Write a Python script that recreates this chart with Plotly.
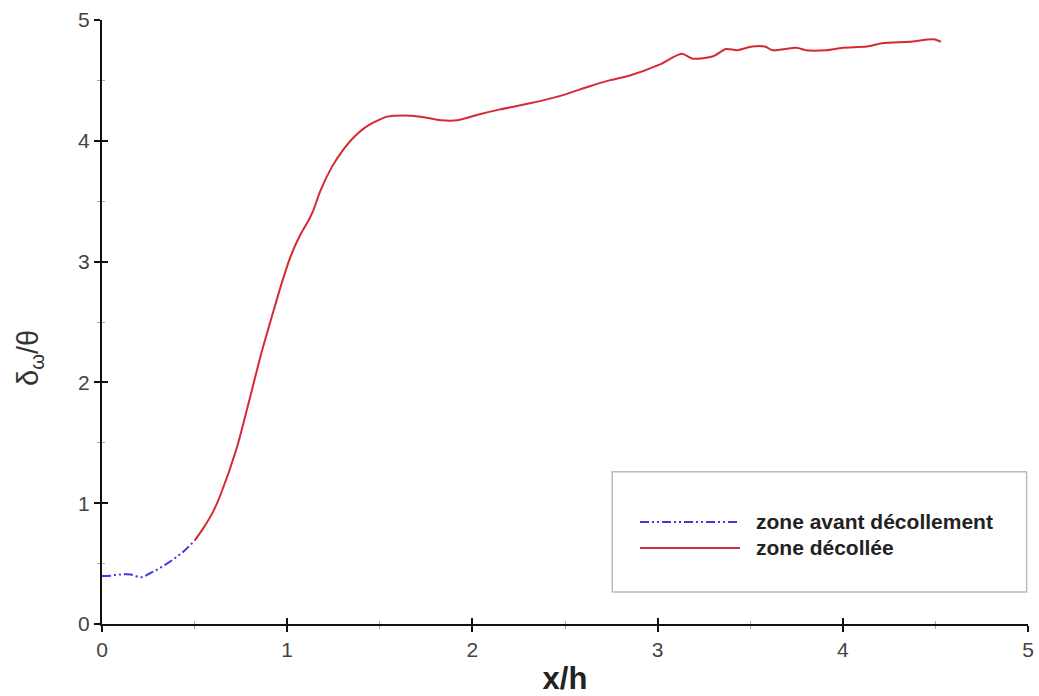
import plotly.graph_objects as go

# Upstream region (before separation)
x_before = [0.0, 0.05, 0.10, 0.155, 0.21, 0.26, 0.32, 0.38, 0.44, 0.50]
y_before = [0.397, 0.40, 0.41, 0.41, 0.387, 0.42, 0.47, 0.53, 0.60, 0.69]

# Separated region
x_sep = [0.50, 0.55, 0.60, 0.64, 0.73, 0.80, 0.86, 0.92, 0.97, 1.02, 1.07, 1.115,
         1.14, 1.18, 1.24, 1.30, 1.36, 1.43, 1.54, 1.63, 1.72, 1.83, 1.92, 2.04,
         2.15, 2.31, 2.47, 2.63, 2.74, 2.85, 3.01, 3.13, 3.19, 3.30, 3.37, 3.43,
         3.51, 3.58, 3.62, 3.75, 3.80, 3.91, 4.00, 4.13, 4.22, 4.36, 4.49, 4.53]
y_sep = [0.69, 0.80, 0.93, 1.07, 1.47, 1.88, 2.24, 2.56, 2.82, 3.05, 3.22, 3.34,
         3.42, 3.59, 3.78, 3.92, 4.03, 4.12, 4.20, 4.21, 4.20, 4.17, 4.17, 4.22,
         4.26, 4.31, 4.37, 4.45, 4.50, 4.54, 4.63, 4.72, 4.68, 4.70, 4.76, 4.75,
         4.78, 4.78, 4.75, 4.77, 4.75, 4.75, 4.77, 4.78, 4.81, 4.82, 4.84, 4.82]

series_names = ["zone avant décollement", "zone décollée"]
x_ticks = [0, 1, 2, 3, 4, 5]
y_ticks = [0, 1, 2, 3, 4, 5]

BLUE = "#3b3be0"
RED = "#d42a32"
BLUE_DASH = "9px,3px,2px,3px,2px,3px"
FONT = "Liberation Sans, Arial, sans-serif"


def main_axis(ticks):
    return dict(range=[0, 5], showgrid=False, zeroline=False, showline=True,
                linecolor="#111", linewidth=2, ticks="outside", ticklen=6,
                tickwidth=2, tickcolor="#111", automargin=False, tickvals=ticks,
                tickfont=dict(family=FONT, size=21, color="#444"),
                minor=dict(dtick=0.5, ticks="outside", ticklen=3, tickcolor="#aaa",
                           tickwidth=1))


def mirror_axis(ticks, overlay, anchor, side):
    # inward tick marks so the major ticks cross the axis lines
    return dict(range=[0, 5], overlaying=overlay, anchor=anchor, side=side,
                showgrid=False, zeroline=False, showline=False, tickvals=ticks,
                ticks="inside", ticklen=6, tickwidth=2, tickcolor="#111",
                showticklabels=False, automargin=False,
                minor=dict(dtick=0.5, ticks="inside", ticklen=3, tickcolor="#aaa",
                           tickwidth=1))


fig = go.Figure()
fig.add_trace(go.Scatter(x=x_before, y=y_before, mode="lines", name=series_names[0],
                         line=dict(color=BLUE, width=2, dash=BLUE_DASH, shape="spline"),
                         showlegend=False))
fig.add_trace(go.Scatter(x=x_sep, y=y_sep, mode="lines", name=series_names[1],
                         line=dict(color=RED, width=2, shape="spline", smoothing=0.7),
                         showlegend=False))
# empty trace that activates the mirrored axes
fig.add_trace(go.Scatter(x=[None], y=[None], xaxis="x2", yaxis="y2", showlegend=False,
                         hoverinfo="skip"))

xaxis = main_axis(x_ticks)
xaxis["title"] = dict(text="<b>x/h</b>", font=dict(family=FONT, size=31, color="#222"),
                      standoff=10)
yaxis = main_axis(y_ticks)

fig.update_layout(
    width=1039, height=696,
    margin=dict(l=102, r=11, t=20, b=72),
    plot_bgcolor="white", paper_bgcolor="white",
    xaxis=xaxis,
    yaxis=yaxis,
    xaxis2=mirror_axis(x_ticks, "x", "y", "bottom"),
    yaxis2=mirror_axis(y_ticks, "y", "x", "left"),
)

# y-axis title, set slightly below the axis midpoint
fig.add_annotation(xref="paper", yref="paper", x=-0.078, y=0.44, textangle=-90,
                   text="δ<sub>ω</sub>/θ", showarrow=False, xanchor="center", yanchor="middle",
                   font=dict(family=FONT, size=29, color="#333"))

# Legend panel
fig.add_shape(type="rect", xref="paper", yref="paper", x0=0.551, x1=0.9985, y0=0.053, y1=0.252,
              line=dict(color="#bbb", width=1.5), fillcolor="rgba(255,255,255,0)")
legend_rows = [(series_names[0], BLUE, BLUE_DASH, 0.169), (series_names[1], RED, "solid", 0.126)]
for label, color, dash, yy in legend_rows:
    fig.add_shape(type="line", xref="paper", yref="paper", x0=0.581, x1=0.689, y0=yy, y1=yy,
                  line=dict(color=color, width=2, dash=dash))
    fig.add_annotation(xref="paper", yref="paper", x=0.704, y=yy, text=f"<b>{label}</b>",
                       showarrow=False, xanchor="left", yanchor="middle",
                       font=dict(family=FONT, size=21, color="#222"))

fig.write_html("out.html")
